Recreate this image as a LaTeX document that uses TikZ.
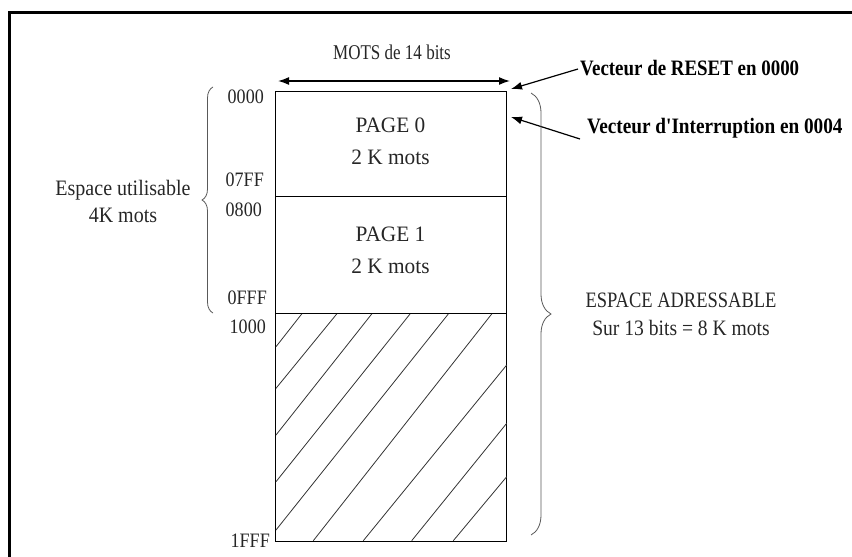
\documentclass[tikz,border=0pt]{standalone}
\usepackage{fontspec}
\usepackage{graphicx}
\setmainfont{Liberation Serif}
\usetikzlibrary{arrows.meta,decorations.pathreplacing}
\newcommand{\hsqz}[2]{\scalebox{#1}[1]{#2}}
\begin{document}
\begin{tikzpicture}[x=1pt,y=-1pt,
  lbl/.style={font=\fontsize{22}{28}\selectfont, inner sep=0pt, align=center, text=black!85},
  addr/.style={font=\fontsize{20.5}{22}\selectfont, inner sep=0pt, anchor=east, text=black!85},
  vec/.style={font=\bfseries\fontsize{22}{24}\selectfont, inner sep=0pt, anchor=west},
  mem/.style={draw, line width=1pt, minimum width=231pt, inner sep=0pt, anchor=north west},
  arr/.style={-{Latex[length=11pt,width=8pt]}, line width=1.2pt},
  brc/.style={decorate, draw=black!65, line width=0.8pt},
  hatch/.style={line width=0.8pt, draw=black!80}
]
\useasboundingbox (0,0) rectangle (852,557);
% frame
\draw[line width=3pt] (9,557) -- (9,12) -- (852,12);

% memory blocks
\node[mem, minimum height=105pt] (p0) at (275,91) {};
\node[mem, minimum height=117pt] (p1) at (275,196) {};
\node[mem, minimum height=228pt] (free) at (275,313) {};

% hatching
\draw[hatch] (301.7,314) -- (276,346.7);
\draw[hatch] (336.7,314) -- (276,388.3);
\draw[hatch] (371.7,314) -- (276,435);
\draw[hatch] (410,314) -- (276,481.7);
\draw[hatch] (448.3,314) -- (276,530);
\draw[hatch] (491.7,314) -- (313.3,540.7);
\draw[hatch] (506.7,365) -- (363.3,540.7);
\draw[hatch] (506.7,423.3) -- (411.7,540.7);
\draw[hatch] (506.7,476.7) -- (453.3,540.7);

% page texts
\node[lbl, font=\fontsize{22}{32}\selectfont] (p0t) at (390.5,141) {\hsqz{0.97}{PAGE 0}\\\hsqz{0.97}{2 K mots}};
\node[lbl, font=\fontsize{22}{32}\selectfont] (p1t) at (390.5,250) {\hsqz{0.97}{PAGE 1}\\\hsqz{0.97}{2 K mots}};

% width arrow
\node[lbl, font=\fontsize{21}{24}\selectfont] (mots) at (392,52) {\hsqz{0.81}{MOTS de 14 bits}};
\coordinate (wl) at (278,81);
\coordinate (wr) at (510,81);
\draw[{Latex[length=11pt,width=8pt]}-{Latex[length=11pt,width=8pt]}, line width=1.5pt] (wl) -- (wr);

% vectors
\node[vec] (reset) at (580,68) {\hsqz{0.86}{Vecteur de RESET en 0000}};
\coordinate (rtip) at (511,89);
\draw[arr] ([shift={(-2,1)}]reset.west) -- (rtip);
\node[vec] (intr) at (587,128) {\hsqz{0.875}{Vecteur d\textquotesingle Interruption en 0004}};
\coordinate (itip) at (511,117);
\draw[arr] ([shift={(-7,11)}]intr.west) -- (itip);

% addresses
\node[addr] (a0) at (264,97) {\hsqz{0.88}{0000}};
\node[addr] (a1) at (264,180) {\hsqz{0.88}{07FF}};
\node[addr] (a2) at (262,210) {\hsqz{0.88}{0800}};
\node[addr] (a3) at (267,298) {\hsqz{0.88}{0FFF}};
\node[addr] (a4) at (266,327) {\hsqz{0.88}{1000}};
\node[addr] (a5) at (270,541) {\hsqz{0.88}{1FFF}};

% left brace
\draw[brc, decoration={brace, amplitude=11pt}] (213,313) -- (213,87);
\node[lbl, font=\fontsize{22}{27}\selectfont] (eu) at (123,201.5) {\hsqz{0.91}{Espace utilisable}\\\hsqz{0.91}{4K mots}};

% right brace
\draw[brc, decoration={brace, amplitude=20pt}] (531,93) -- (531,535);
\node[lbl] (ea) at (681,314) {\hsqz{0.84}{ESPACE ADRESSABLE}\\\hsqz{0.89}{Sur 13 bits = 8 K mots}};
\end{tikzpicture}
\end{document}
